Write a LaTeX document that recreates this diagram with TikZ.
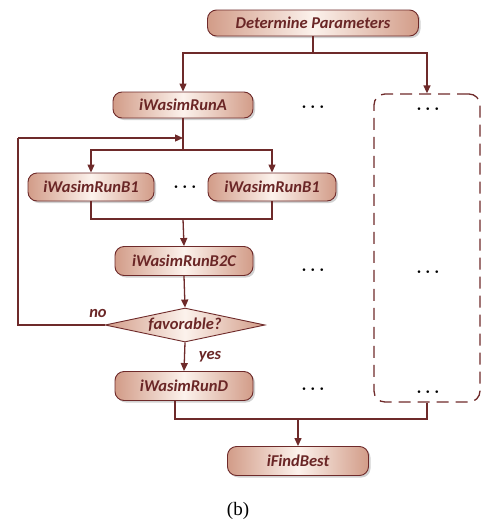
\documentclass[tikz,border=0pt]{standalone}
\usepackage{fontspec}
\setmainfont{Liberation Serif}
\newfontfamily\boxfont{Carlito}
\usetikzlibrary{arrows.meta,shapes.geometric,shadows,positioning}
\definecolor{ln}{HTML}{6E2A2A}
\definecolor{tx}{HTML}{6A2626}
\definecolor{edge}{HTML}{D29C88}
\definecolor{mid}{HTML}{FCF2EC}
\tikzset{
  boxtext/.style={text=tx, font=\boxfont\bfseries\itshape\fontsize{16.5}{18}\selectfont},
  proc/.style={draw=ln, line width=0.9pt, rounded corners=9pt,
    left color=edge, right color=edge, middle color=mid,
    boxtext, inner sep=0pt,
    drop shadow={shadow xshift=2pt, shadow yshift=-2pt, opacity=0.18, fill=black}},
  decis/.style={diamond, draw=ln, line width=0.9pt, aspect=4.7,
    left color=edge, right color=edge, middle color=mid,
    boxtext, inner sep=0pt, minimum width=160pt, minimum height=34pt},
  lbl/.style={boxtext, inner sep=0pt},
  conn/.style={draw=ln, line width=1.3pt},
  arr/.style={conn, -{Triangle[length=8pt,width=7pt]}},
  dotsn/.style={inner sep=0pt, font=\fontsize{17}{19}\selectfont\boldmath},
  dashbox/.style={draw=ln, line width=1.3pt, dash pattern=on 12pt off 7pt, rounded corners=11pt,
    minimum width=106pt, minimum height=308pt, inner sep=0pt}
}
\begin{document}
\begin{tikzpicture}[x=1pt,y=-1pt]
\useasboundingbox (0,0) rectangle (482,523);
% nodes
\node[proc, minimum width=211pt, minimum height=26pt] (dp) at (313,23) {Determine Parameters};
\node[proc, minimum width=140pt, minimum height=26pt] (runA) at (183,105) {iWasimRunA};
\node[dashbox] (dbox) at (427,248) {};
\node[proc, minimum width=126pt, minimum height=28pt] (b1l) at (91,187) {iWasimRunB1};
\node[proc, minimum width=128pt, minimum height=28pt] (b1r) at (272,187) {iWasimRunB1};
\node[proc, minimum width=138pt, minimum height=29pt] (b2c) at (184,261) {iWasimRunB2C};
\node[decis] (fav) at (185,325) {favorable?};
\node[proc, minimum width=138pt, minimum height=29pt] (runD) at (184,386) {iWasimRunD};
\node[proc, minimum width=141pt, minimum height=29pt] (best) at (298,461) {iFindBest};
% dots
\node[dotsn] (dA) at (313,107) {$\cdots$};
\node[dotsn] (dB) at (185,187) {$\cdots$};
\node[dotsn] (dC) at (313,270) {$\cdots$};
\node[dotsn] (dD) at (313,389) {$\cdots$};
\node[dotsn] (e1) at (428,109) {$\cdots$};
\node[dotsn] (e2) at (428,272) {$\cdots$};
\node[dotsn] (e3) at (428,392) {$\cdots$};
% labels
\node[lbl] (no) at (98,313) {no};
\node[lbl] (yes) at (210,357) {yes};
\node[inner sep=0pt, font=\fontsize{19}{21}\selectfont] (cap) at (238,511) {(b)};
% coordinates
\coordinate (j1) at (313,53);
\coordinate (j2) at (183,150);
\coordinate (jm) at (183,138);
\coordinate (j3) at (183,219);
\coordinate (l1) at (18,325);
\coordinate (l2) at (18,138);
\coordinate (rd) at (175,401);
\coordinate (j4) at (298,419);
% connectors
\draw[conn] (dp.south) -- (j1);
\draw[arr] (j1) -| (runA.north);
\draw[arr] (j1) -| (dbox.north);
\draw[conn] (runA.south) -- (j2);
\draw[arr] (j2) -| (b1l.north);
\draw[arr] (j2) -| (b1r.north);
\draw[conn] (b1l.south) |- (j3);
\draw[conn] (b1r.south) |- (j3);
\draw[arr] (j3) -- (b2c.north);
\draw[arr] (b2c.south) -- (fav.north);
\draw[conn] (fav.west) -- (l1) -- (l2);
\draw[arr] (l2) -- (jm);
\draw[arr] (fav.south) -- (runD.north);
\draw[conn] (rd) |- (j4);
\draw[conn] (dbox.south) |- (j4);
\draw[arr] (j4) -- (best.north);
\end{tikzpicture}
\end{document}
